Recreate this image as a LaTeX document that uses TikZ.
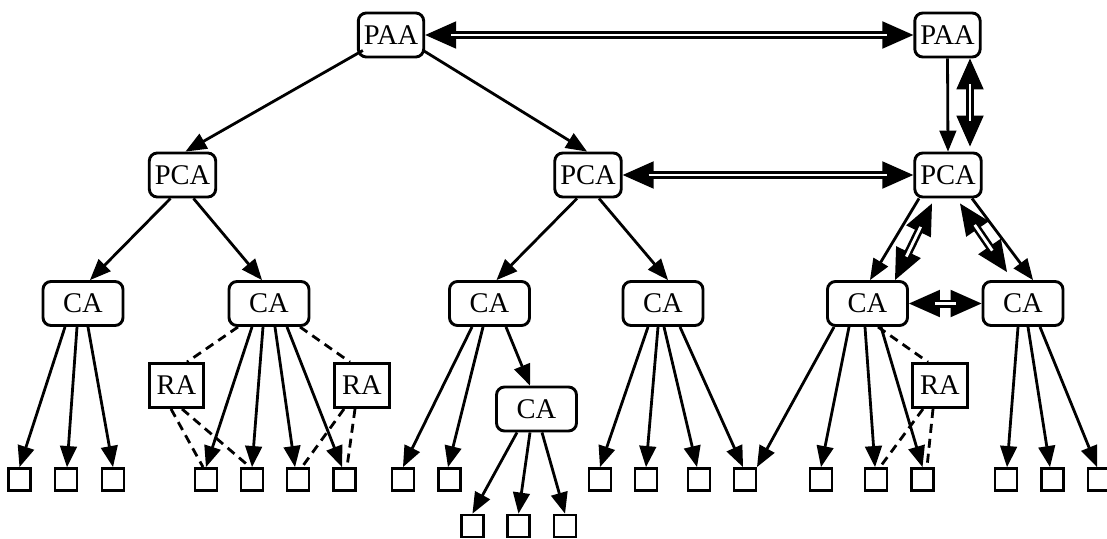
\documentclass[tikz,border=0pt]{standalone}
\usepackage{fontspec}
\setmainfont{Liberation Serif}
\usetikzlibrary{arrows.meta}

\tikzset{
  box/.style={draw, line width=2.9pt, rounded corners=8pt, fill=white,
    minimum height=44pt, inner xsep=5.5pt, inner ysep=0pt,
    font=\fontsize{28.5pt}{31pt}\selectfont},
  cabox/.style={box, minimum width=80pt},
  rabox/.style={draw, line width=2.9pt, fill=white, minimum height=44pt,
    inner xsep=7.5pt, inner ysep=0pt, font=\fontsize{28.5pt}{31pt}\selectfont},
  leaf/.style={draw, line width=2.9pt, fill=white, minimum size=22pt, inner sep=0pt},
  edge/.style={line width=2.8pt, -{Triangle[length=21pt,width=17pt,line width=1.5pt]}},
  cross/.style={line width=8pt,
    {Triangle[length=31pt,width=27pt,line width=2pt]}-{Triangle[length=31pt,width=27pt,line width=2pt]},
    postaction={draw=white, line width=2.8pt, arrows=-, shorten <=26pt, shorten >=26pt}},
  ralink/.style={line width=2.8pt, dash pattern=on 9pt off 6pt},
}

\begin{document}
\begin{tikzpicture}[x=1pt, y=-1pt]
\useasboundingbox (0,0) rectangle (1107,538);

% authorities
\node[box] (paa1) at (391,35) {PAA};
\node[box] (paa2) at (947.5,35) {PAA};
\node[box] (pca1) at (182.5,175) {PCA};
\node[box] (pca2) at (588,175) {PCA};
\node[box] (pca3) at (948,175) {PCA};
\node[cabox] (ca1) at (83,303.5) {CA};
\node[cabox] (ca2) at (269,303.5) {CA};
\node[cabox] (ca3) at (489.5,303.5) {CA};
\node[cabox] (ca4) at (663,303.5) {CA};
\node[cabox] (ca5) at (867.5,303.5) {CA};
\node[cabox] (ca6) at (1023,303.5) {CA};
\node[cabox] (ca7) at (536.5,409) {CA};
\node[rabox] (ra1) at (176.5,385.5) {RA};
\node[rabox] (ra2) at (362,385.5) {RA};
\node[rabox] (ra3) at (940,385.5) {RA};

% end entities
\foreach \n/\x in {1/19.5, 2/66, 3/113, 4/206, 5/252, 6/298, 7/344.5, 8/403, 9/449.5,
  10/600, 11/646, 12/699, 13/745, 14/821, 15/876, 16/922.5, 17/1006, 18/1052.5, 19/1099}
  \node[leaf] (l\n) at (\x,479.5) {};
\foreach \n/\x in {1/472.5, 2/518.5, 3/565}
  \node[leaf] (b\n) at (\x,526) {};

% hierarchy
\draw[edge] ([xshift=6pt,yshift=8pt]paa1.south west) -- ([xshift=3pt]pca1.north);
\draw[edge] ([xshift=-2pt,yshift=8pt]paa1.south east) -- ([xshift=-1pt]pca2.north);
\draw[edge] ([xshift=-12pt]pca1.south) -- ([xshift=7pt]ca1.north);
\draw[edge] ([xshift=11pt]pca1.south) -- ([xshift=-7pt]ca2.north);
\draw[edge] ([xshift=-11pt]pca2.south) -- ([xshift=7pt]ca3.north);
\draw[edge] ([xshift=11pt]pca2.south) -- ([xshift=5pt]ca4.north);
\draw[edge] (paa2.south) -- (pca3.north);
\draw[edge] ([xshift=-29pt]pca3.south) -- ([xshift=2.5pt]ca5.north);
\draw[edge] ([xshift=24pt]pca3.south) -- ([xshift=10pt]ca6.north);

% certificates issued by the CAs
\draw[edge] ([xshift=-18pt]ca1.south) -- (l1.north);
\draw[edge] ([xshift=-6pt]ca1.south) -- ([xshift=1pt]l2.north);
\draw[edge] ([xshift=5pt]ca1.south) -- (l3.north);
\draw[edge] ([xshift=-17pt]ca2.south) -- (l4.north);
\draw[edge] ([xshift=-6pt]ca2.south) -- (l5.north);
\draw[edge] ([xshift=6pt]ca2.south) -- ([xshift=-3pt]l6.north);
\draw[edge] ([xshift=18pt]ca2.south) -- ([xshift=-2.5pt]l7.north);
\draw[edge] ([xshift=-17.5pt]ca3.south) -- (l8.north);
\draw[edge] ([xshift=-6.5pt]ca3.south) -- ([xshift=-1.5pt]l9.north);
\draw[edge] ([xshift=16.5pt]ca3.south) -- ([xshift=-6.5pt]ca7.north);
\draw[edge] ([xshift=-15pt]ca4.south) -- (l10.north);
\draw[edge] ([xshift=-5pt]ca4.south) -- (l11.north);
\draw[edge] ([xshift=1pt]ca4.south) -- ([xshift=-2pt]l12.north);
\draw[edge] ([xshift=17pt]ca4.south) -- ([xshift=-2pt]l13.north);
\draw[edge] ([xshift=-33.5pt]ca5.south) -- ([xshift=12pt]l13.north);
\draw[edge] ([xshift=-18.5pt]ca5.south) -- (l14.north);
\draw[edge] ([xshift=-2.5pt]ca5.south) -- ([xshift=-1pt]l15.north);
\draw[edge] ([xshift=13.5pt]ca5.south) -- (l16.north);
\draw[edge] ([xshift=-5pt]ca6.south) -- ([xshift=1pt]l17.north);
\draw[edge] ([xshift=5pt]ca6.south) -- ([xshift=-2.5pt]l18.north);
\draw[edge] ([xshift=17pt]ca6.south) -- ([xshift=-2pt]l19.north);
\draw[edge] ([xshift=-19.5pt]ca7.south) -- (b1.north);
\draw[edge] ([xshift=-6.5pt]ca7.south) -- (b2.north);
\draw[edge] ([xshift=5.5pt]ca7.south) -- (b3.north);

% registration authorities
\draw[ralink] ([xshift=-31pt]ca2.south) -- ([xshift=10.5pt]ra1.north);
\draw[ralink] ([xshift=31pt]ca2.south) -- ([xshift=-12pt]ra2.north);
\draw[ralink] ([xshift=-5.5pt]ra1.south) -- ([xshift=-3pt]l4.north);
\draw[ralink] ([xshift=5.5pt]ra1.south) -- ([xshift=-2pt]l5.north);
\draw[ralink] ([xshift=-18pt]ra2.south) -- ([xshift=4pt]l6.north);
\draw[ralink] ([xshift=-7pt]ra2.south) -- ([xshift=2.5pt]l7.north);
\draw[ralink] ([xshift=10.5pt]ca5.south) -- ([xshift=-12pt]ra3.north);
\draw[ralink] ([xshift=-17pt]ra3.south) -- ([xshift=4pt]l15.north);
\draw[ralink] ([xshift=-7pt]ra3.south) -- ([xshift=4.5pt]l16.north);

% cross certification
\draw[cross] (paa1.east) -- (paa2.west);
\draw[cross] (pca2.east) -- (pca3.west);
\draw[cross] ([xshift=22.5pt]paa2.south) -- ([xshift=22pt,yshift=5pt]pca3.north);
\draw[cross] ([xshift=-16pt,yshift=-5pt]pca3.south) -- ([xshift=27.5pt]ca5.north);
\draw[cross] ([xshift=12pt,yshift=-5pt]pca3.south) -- ([xshift=-16pt,yshift=8pt]ca6.north);
\draw[cross] (ca5.east) -- (ca6.west);
\end{tikzpicture}
\end{document}
